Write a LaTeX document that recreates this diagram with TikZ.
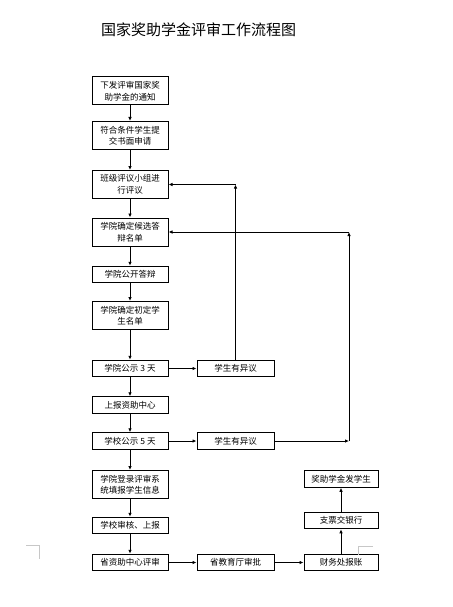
\documentclass[tikz,border=0pt]{standalone}
\usepackage{fontspec}
\newfontfamily\cjk{Noto Sans CJK SC}
\usetikzlibrary{arrows.meta}
\begin{document}
\begin{tikzpicture}[x=1pt,y=-1pt,
    box/.style={draw, line width=1pt, minimum width=76pt, inner sep=1pt, align=center,
      font=\cjk\fontsize{8.5}{11.5}\selectfont},
    tall/.style={box, minimum height=28pt},
    flat/.style={box, minimum height=16.5pt},
    link/.style={line width=0.8pt, -{Latex[length=4pt,width=3.5pt]}},
    crop/.style={black!22, line width=0.8pt}]
  \useasboundingbox (0,0) rectangle (452,607);
  \node[font=\cjk\fontsize{15}{18}\selectfont] (title) at (198.5,29.5) {国家奖助学金评审工作流程图};
  \node[tall] (notice) at (130,91) {下发评审国家奖\\助学金的通知};
  \node[tall] (apply) at (130,135.5) {符合条件学生提\\交书面申请};
  \node[tall] (review) at (130,184.5) {班级评议小组进\\行评议};
  \node[tall] (shortlist) at (130,232) {学院确定候选答\\辩名单};
  \node[flat] (defense) at (130,274.5) {学院公开答辩};
  \node[tall] (prelist) at (130,315.5) {学院确定初定学\\生名单};
  \node[flat] (pubA) at (130,368.5) {学院公示 3 天};
  \node[flat] (report) at (130,405) {上报资助中心};
  \node[flat] (pubB) at (130,441) {学校公示 5 天};
  \node[tall] (enter) at (130,484.5) {学院登录评审系\\统填报学生信息};
  \node[flat] (check) at (130,525.5) {学校审核、上报};
  \node[flat] (center) at (130,562.5) {省资助中心评审};
  \node[flat, minimum width=77pt] (objA) at (235.5,368.5) {学生有异议};
  \node[flat, minimum width=77pt] (objB) at (235.5,441) {学生有异议};
  \node[flat, minimum width=77pt] (edu) at (235.5,562.5) {省教育厅审批};
  \node[flat, minimum width=74pt] (finance) at (341,562.5) {财务处报账};
  \node[flat, minimum width=74pt] (bank) at (341,520.5) {支票交银行};
  \node[flat, minimum width=74pt] (grant) at (341,479) {奖助学金发学生};
  \coordinate (turnA) at (235.5,184.5);
  \coordinate (turnB) at (349,441);
  \coordinate (turnC) at (349,232);
  \draw[link] (notice) -- (apply);
  \draw[link] (apply) -- (review);
  \draw[link] (review) -- (shortlist);
  \draw[link] (shortlist) -- (defense);
  \draw[link] (defense) -- (prelist);
  \draw[link] (prelist) -- (pubA);
  \draw[link] (pubA) -- (report);
  \draw[link] (report) -- (pubB);
  \draw[link] (pubB) -- (enter);
  \draw[link] (enter) -- (check);
  \draw[link] (check) -- (center);
  \draw[link] (pubA) -- (objA);
  \draw[link] (pubB) -- (objB);
  \draw[link] (objA) -- (turnA);
  \draw[link] (turnA) -- (review);
  \draw[link] (objB) -- (turnB);
  \draw[link] (turnB) -- (turnC);
  \draw[link] (turnC) -- (shortlist);
  \draw[link] (center) -- (edu);
  \draw[link] (edu) -- (finance);
  \draw[link] (finance) -- (bank);
  \draw[link] (bank) -- (grant);
  \draw[crop] (26,545) -- (39,545) -- (39,559);
  \draw[crop] (373,546) -- (358,546) -- (358,555);
\end{tikzpicture}
\end{document}
